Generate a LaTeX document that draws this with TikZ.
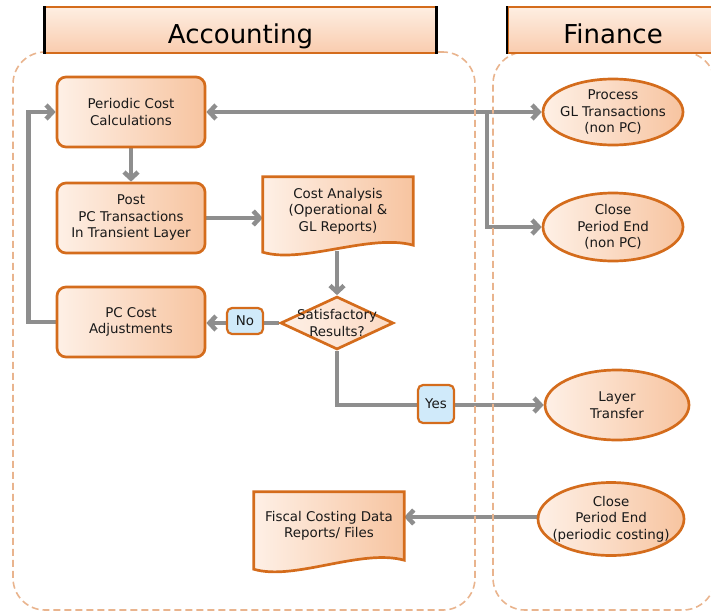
\documentclass[tikz,border=0pt]{standalone}
\usepackage{fontspec}
\setmainfont{DejaVu Sans}
\usetikzlibrary{shapes.geometric,arrows.meta,backgrounds}

\definecolor{edgeor}{RGB}{212,108,28}
\definecolor{peachlt}{RGB}{254,240,230}
\definecolor{peachdk}{RGB}{247,196,160}
\definecolor{peachmd}{RGB}{251,218,196}
\definecolor{lanecol}{RGB}{233,180,142}
\definecolor{hdrtop}{RGB}{254,238,226}
\definecolor{hdrbot}{RGB}{249,204,174}
\definecolor{wire}{RGB}{142,142,142}
\definecolor{flagblue}{RGB}{208,234,250}
\definecolor{ink}{RGB}{25,25,25}

\tikzset{
  lbl/.style={font=\fontsize{13.4}{16.5}\selectfont, align=center, text=ink},
  proc/.style={lbl, rounded corners=9pt, draw=edgeor, line width=2.7pt,
    left color=peachlt, right color=peachdk, minimum width=148pt, minimum height=70pt},
  oval/.style={lbl, ellipse, draw=edgeor, line width=2.7pt, inner xsep=-16pt, inner ysep=-6pt,
    left color=peachlt, right color=peachdk},
  docbox/.style={lbl, minimum width=150pt, minimum height=68pt, inner sep=0pt},
  docshape/.style={draw=edgeor, line width=2.7pt, left color=peachlt, right color=peachdk},
  decide/.style={lbl, diamond, draw=edgeor, line width=2.7pt, inner sep=0pt, aspect=1,
    left color=peachlt, right color=peachmd, minimum width=113pt, minimum height=53pt},
  flagbox/.style={lbl, rounded corners=5pt, draw=edgeor, line width=2.2pt, fill=flagblue,
    minimum width=36pt, minimum height=26pt, inner sep=0pt},
  lane/.style={draw=lanecol, line width=1.6pt, dash pattern=on 7pt off 4pt, rounded corners=32pt},
  hdr/.style={draw=edgeor, line width=1.8pt, top color=hdrtop, bottom color=hdrbot,
    font=\fontsize{26}{30}\selectfont, text=black, minimum height=46pt, inner sep=0pt,
    text height=26pt, text depth=0pt},
  wire/.style={draw=wire, line width=4.5pt},
  arr/.style={-{Straight Barb[length=6.5pt,width=14pt]}},
  arrs/.style={{Straight Barb[length=6.5pt,width=14pt]}-{Straight Barb[length=6.5pt,width=14pt]}},
}

\begin{document}
\begin{tikzpicture}[x=1pt,y=-1pt]
\useasboundingbox (0,0) rectangle (711,613);

% swim lanes
\node[lane, minimum width=462pt, minimum height=558pt] (acclane) at (244,331) {};
\node[lane, minimum width=222pt, minimum height=558pt] (finlane) at (604,331) {};

% lane headers
\node[hdr, minimum width=391pt] (acchdr) at (240.5,30) {Accounting};
\draw[black, line width=3pt] (acchdr.north west) -- (acchdr.south west)
      (acchdr.north east) -- (acchdr.south east);
\node[hdr, minimum width=210pt] (finhdr) at (613,30) {Finance};
\draw[black, line width=2pt] (finhdr.north west) -- (finhdr.south west);

% process steps
\node[proc] (pcc)  at (131,112) {Periodic Cost\\Calculations};
\node[proc] (post) at (131,218) {Post\\PC Transactions\\In Transient Layer};
\node[proc] (adj)  at (131,322) {PC Cost\\Adjustments};

% documents
\node[docbox] (ca)  at (338,211) {Cost Analysis\\(Operational \&\\GL Reports)};
\node[docbox] (fcd) at (329,526) {Fiscal Costing Data\\Reports/ Files};

% decision
\node[decide] (dec) at (337,323) {\makebox[0pt]{Satisfactory}\\\makebox[0pt]{Results?}};

% finance events
\node[oval, minimum width=140pt, minimum height=66pt] (gl)  at (613,112) {Process\\GL Transactions\\(non PC)};
\node[oval, minimum width=140pt, minimum height=68pt] (cpe) at (613,227) {Close\\Period End\\(non PC)};
\node[oval, minimum width=144pt, minimum height=70pt] (lt)  at (617,405) {Layer\\Transfer};
\node[oval, minimum width=146pt, minimum height=73pt] (cpp) at (611,519) {Close\\Period End\\(periodic costing)};

% branch labels
\node[flagbox] (no)  at (245,321) {No};
\node[flagbox, minimum height=38pt] (yes) at (436,404) {Yes};

\coordinate (jn) at (487,112);

\begin{pgfonlayer}{background}
  % connectors
  \draw[wire, arr] (adj.west) -- ++(-27,0) |- (pcc.west);
  \draw[wire, arr] (pcc.south) -- (post.north);
  \draw[wire, arr] (post.east) -- (ca.west |- post.east);
  \draw[wire, arrs] (pcc.east) -- (gl.west);
  \draw[wire, arr] (jn) |- (cpe.west);
  \draw[wire, arr] (dec.north |- ca.south) ++(0,6) -- (dec.north);
  \draw[wire, arr] (dec.west) -- (dec.west -| adj.east);
  \draw[wire, arr] (dec.south) |- (lt.west);
  \draw[wire, arr] (cpp.west |- fcd.east) ++(0,-9) coordinate (cppw) -- (cppw -| fcd.east);
  % document outlines with wavy lower edge
  \path[docshape] (ca.north west) -- (ca.north east) -- (ca.south east)
     .. controls +(-43,-12) and +(40,12) .. ([yshift=-7pt]ca.south west) -- cycle;
  \path[docshape] (fcd.north west) -- (fcd.north east) -- (fcd.south east)
     .. controls +(-43,-12) and +(40,12) .. ([yshift=-9pt]fcd.south west) -- cycle;
\end{pgfonlayer}
\end{tikzpicture}
\end{document}
